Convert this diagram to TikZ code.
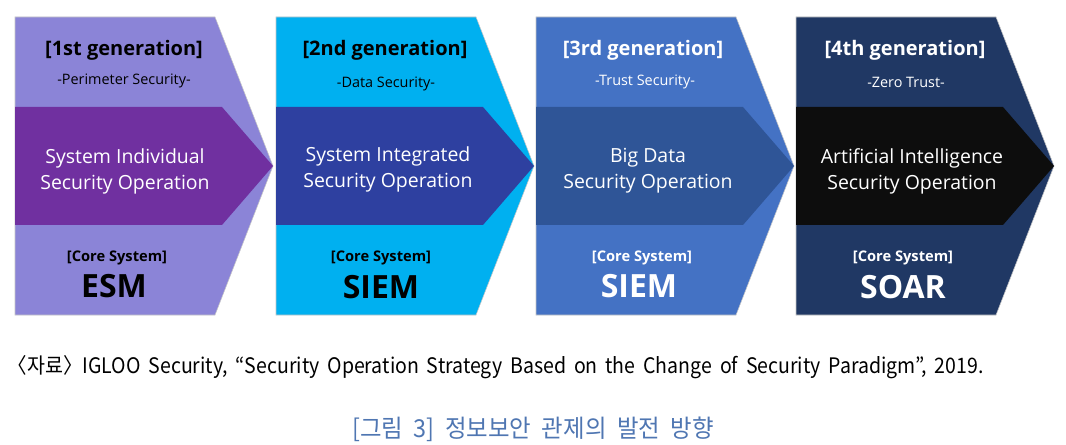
\documentclass[tikz,border=0pt]{standalone}
\usepackage{fontspec}
\setmainfont{Open Sans}
\newfontfamily\krfont[FakeStretch=0.915, WordSpace=1.8]{Noto Sans CJK KR}
\newfontfamily\krcapfont[FakeStretch=0.95, WordSpace=2]{Noto Sans CJK KR}

\definecolor{genonebg}{RGB}{139,132,215}
\definecolor{genoneband}{RGB}{112,48,160}
\definecolor{gentwobg}{RGB}{0,176,240}
\definecolor{gentwoband}{RGB}{46,64,160}
\definecolor{genthreebg}{RGB}{68,114,196}
\definecolor{genthreeband}{RGB}{47,85,151}
\definecolor{genfourbg}{RGB}{32,56,100}
\definecolor{genfourband}{RGB}{13,13,13}
\definecolor{captionblue}{RGB}{79,118,178}

\begin{document}
\begin{tikzpicture}[
    x=0.75pt, y=-0.75pt,
    chevron/.style={draw=white!55!gray, line width=0.4pt},
    band/.style={draw=none},
    gentitle/.style={font=\bfseries\fontsize{15}{18}\selectfont},
    gensub/.style={font=\fontsize{10.8}{12}\selectfont},
    optext/.style={align=center, text=white, font=\fontsize{14.6}{19.5}\selectfont},
    coretag/.style={font=\bfseries\fontsize{11}{12}\selectfont},
    coresys/.style={font=\bfseries\fontsize{24}{28}\selectfont},
    source/.style={font=\krfont\fontsize{16}{18}\selectfont, anchor=west},
    figcap/.style={font=\krcapfont\fontsize{18.5}{20}\selectfont, text=captionblue}
]
\useasboundingbox[fill=white] (0,0) rectangle (1066,445);

% 1st generation
\fill[genonebg, chevron] (15,17) -- (215,17) -- (273,166) -- (215,315) -- (15,315) -- cycle;
\fill[genoneband, band] (15,107) -- (222,107) -- (273,166) -- (222,225) -- (15,225) -- cycle;
\node[gentitle] (gen1) at (124,50) {[1st generation]};
\node[gensub] (sub1) at (124,81) {-Perimeter Security-};
\node[optext] (op1) at (125,171) {System Individual\\Security Operation};
\node[coretag] (tag1) at (117,258) {[Core System]};
\node[coresys] (sys1) at (114,286) {ESM};

% 2nd generation
\fill[gentwobg, chevron] (276,17) -- (476,17) -- (534,166) -- (476,315) -- (276,315) -- cycle;
\fill[gentwoband, band] (276,107) -- (483,107) -- (534,166) -- (483,225) -- (276,225) -- cycle;
\node[gentitle] (gen2) at (385,50) {[2nd generation]};
\node[gensub] (sub2) at (386,84) {-Data Security-};
\node[optext] (op2) at (388,169) {System Integrated\\Security Operation};
\node[coretag] (tag2) at (381,258) {[Core System]};
\node[coresys] (sys2) at (381,287) {SIEM};

% 3rd generation
\fill[genthreebg, chevron] (536,17) -- (736,17) -- (794,166) -- (736,315) -- (536,315) -- cycle;
\fill[genthreeband, band] (536,107) -- (743,107) -- (794,166) -- (743,225) -- (536,225) -- cycle;
\node[gentitle, text=white] (gen3) at (643,50) {[3rd generation]};
\node[gensub, text=white] (sub3) at (645,82) {-Trust Security-};
\node[optext] (op3) at (648,171) {Big Data\\Security Operation};
\node[coretag, text=white] (tag3) at (642,258) {[Core System]};
\node[coresys, text=white] (sys3) at (639,286) {SIEM};

% 4th generation
\fill[genfourbg, chevron] (796,17) -- (996,17) -- (1054,166) -- (996,315) -- (796,315) -- cycle;
\fill[genfourband, band] (796,107) -- (1003,107) -- (1054,166) -- (1003,225) -- (796,225) -- cycle;
\node[gentitle, text=white] (gen4) at (905,50) {[4th generation]};
\node[gensub, text=white] (sub4) at (906,82) {-Zero Trust-};
\node[optext] (op4) at (912,171) {Artificial Intelligence\\Security Operation};
\node[coretag, text=white] (tag4) at (903,258) {[Core System]};
\node[coresys, text=white] (sys4) at (903,287) {SOAR};

% source and caption
\node[source] (src) at (3,367) {〈자료〉IGLOO Security, “Security Operation Strategy Based on the Change of Security Paradigm”, 2019.};
\node[figcap] (cap) at (533,429) {[그림 3] 정보보안 관제의 발전 방향};
\end{tikzpicture}
\end{document}
